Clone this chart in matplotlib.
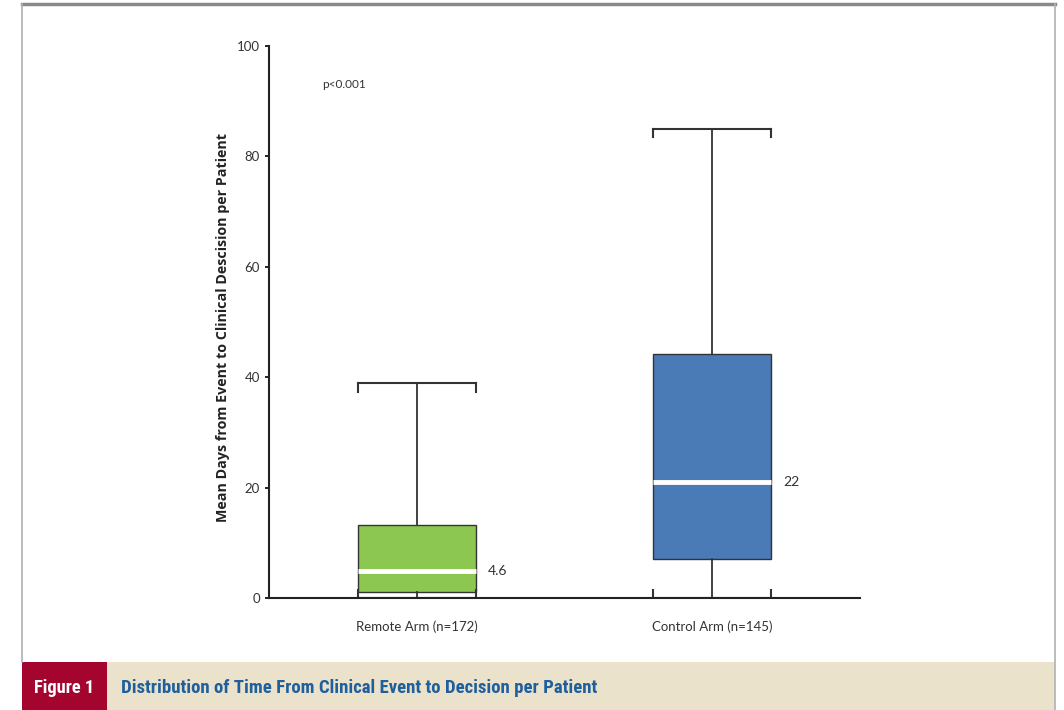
import matplotlib
matplotlib.use("Agg")
import matplotlib.pyplot as plt
from matplotlib.patches import Rectangle
from matplotlib.lines import Line2D

# ---- data ----
categories = ["Remote Arm (n=172)", "Control Arm (n=145)"]
whisker_low = [0.0, 0.0]
q1 = [1.1, 7.1]
median = [4.9, 21.1]
q3 = [13.2, 44.2]
whisker_high = [38.9, 85.0]
median_labels = ["4.6", "22"]
box_colors = ["#8CC751", "#4A7BB6"]
yticks = [0, 20, 40, 60, 80, 100]
p_text = "p<0.001"
ylabel = "Mean Days from Event to Clinical Descision per Patient"
fig_label = "Figure 1"
caption = "Distribution of Time From Clinical Event to Decision per Patient"

plt.rcParams['font.family'] = ['Lato', 'DejaVu Sans']
narrow = ['Liberation Sans Narrow', 'Roboto Condensed', 'DejaVu Sans Condensed',
          'Open Sans Condensed', 'Roboto']

W, H = 1064, 710
fig = plt.figure(figsize=(W / 100, H / 100), dpi=100)
fig.patch.set_facecolor("white")

def fx(px):
    return px / W

def fy(py):
    return 1 - py / H

# outer frame and caption band
fig.add_artist(Line2D([fx(22), fx(1055)], [fy(4), fy(4)], color="#8a8a8a", lw=2.5))
fig.add_artist(Line2D([fx(22), fx(22)], [fy(4), fy(662)], color="#b0b0b0", lw=1.2))
fig.add_artist(Line2D([fx(1055), fx(1055)], [fy(4), fy(710)], color="#b0b0b0", lw=1.2))
fig.add_artist(Rectangle((fx(22), 0), fx(1055) - fx(22), fy(662), facecolor="#EAE2CA",
                         edgecolor="none", transform=fig.transFigure))
fig.add_artist(Rectangle((fx(22), 0), fx(107) - fx(22), fy(662), facecolor="#A3052F",
                         edgecolor="none", transform=fig.transFigure))
fig.text(fx(64.5), fy(688), fig_label, color="white", fontsize=13.3, fontweight="bold",
         ha="center", va="center", family=narrow, fontstretch="condensed")
fig.text(fx(121), fy(688), caption, color="#1F5F9E", fontsize=13.5, fontweight="bold",
         ha="left", va="center", family=narrow, fontstretch="condensed")

ax = fig.add_axes([269 / W, 112 / H, (860 - 269) / W, (598 - 46) / H])
positions = [0.5, 1.5]
width = 0.4
stats = []
for i, c in enumerate(categories):
    stats.append(dict(label=c, whislo=whisker_low[i], q1=q1[i], med=median[i],
                      q3=q3[i], whishi=whisker_high[i], fliers=[]))
bp = ax.bxp(stats, positions=positions, widths=width, patch_artist=True,
            showfliers=False, capwidths=width,
            boxprops=dict(edgecolor="#333333", linewidth=1.0),
            whiskerprops=dict(color="#333333", linewidth=1.3),
            capprops=dict(color="#333333", linewidth=1.5),
            medianprops=dict(color="white", linewidth=3.5))
for patch, col in zip(bp["boxes"], box_colors):
    patch.set_facecolor(col)

# bracket ends on caps
for i, p in enumerate(positions):
    for xx in (p - width / 2, p + width / 2):
        ax.plot([xx, xx], [whisker_high[i], whisker_high[i] - 1.5], color="#333333", lw=1.5)
        ax.plot([xx, xx], [whisker_low[i], whisker_low[i] + 1.4], color="#333333", lw=1.5)
    ax.text(p + width / 2 + 0.04, median[i], median_labels[i], fontsize=10,
            ha="left", va="center", color="#333333")

ax.text(0.18, 93, p_text, fontsize=8.5, ha="left", va="center", color="#333333")

ax.set_xlim(0, 2)
ax.set_ylim(0, 100)
ax.set_yticks(yticks)
ax.set_xticks(positions)
ax.set_xticklabels(categories, fontsize=9.5, color="#333333")
ax.tick_params(axis="x", length=0, pad=16)
ax.tick_params(axis="y", length=3, width=1.2, labelsize=9.5, labelcolor="#333333")
for s in ("top", "right"):
    ax.spines[s].set_visible(False)
for s in ("left", "bottom"):
    ax.spines[s].set_linewidth(1.5)
    ax.spines[s].set_color("#222222")
ax.set_ylabel(ylabel, fontsize=10.3, fontweight="bold", color="#222222",
              family=['Open Sans', 'DejaVu Sans'])
ax.yaxis.set_label_coords(-0.066, 0.49)

fig.savefig("out.png", dpi=100)
